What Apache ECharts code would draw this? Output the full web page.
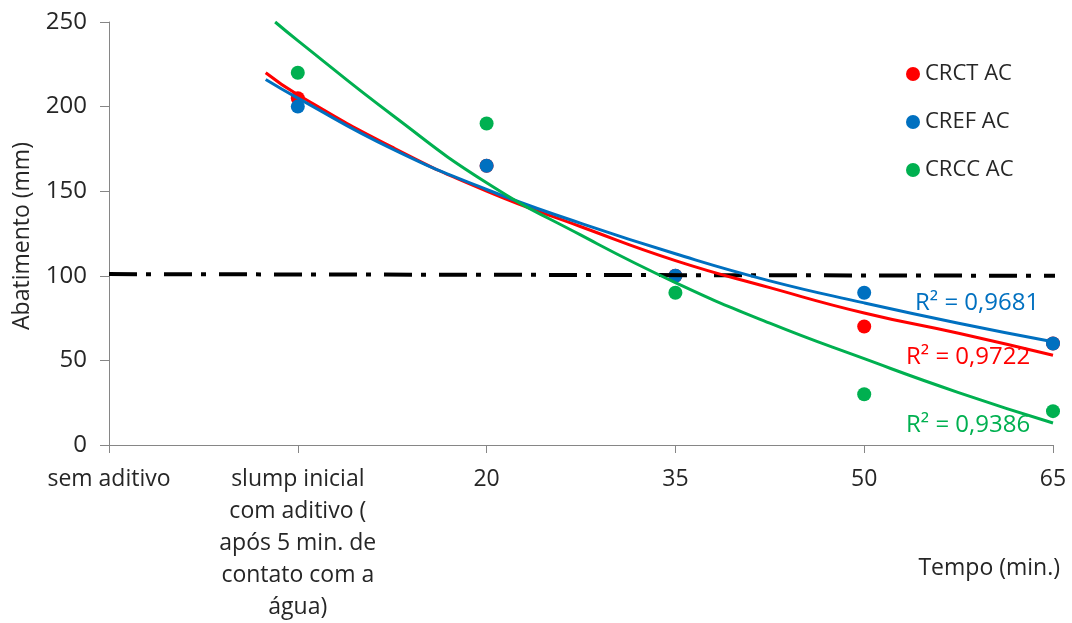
<!DOCTYPE html>
<html>
<head>
<meta charset="utf-8">
<script src="https://cdn.jsdelivr.net/npm/echarts@6/dist/echarts.min.js"></script>
<style>
  html, body { margin: 0; padding: 0; background: #fff; }
  #chart { width: 1072px; height: 623px; }
</style>
</head>
<body>
<div id="chart"></div>
<script>
// categorias do eixo x
var categories = [
  'sem aditivo',
  'slump inicial\ncom aditivo (\napós 5 min. de\ncontato com a\nágua)',
  '20', '35', '50', '65'
];

// pontos medidos (indice da categoria, abatimento em mm)
var crct = [[1, 205], [2, 165], [3, 100], [4, 70], [5, 60]];
var cref = [[1, 200], [2, 165], [3, 100], [4, 90], [5, 60]];
var crcc = [[1, 220], [2, 190], [3, 90], [4, 30], [5, 20]];

// linhas de tendencia
var trendCrct = [[0.83, 220], [1, 207], [1.5, 176], [2, 150], [2.5, 129], [3, 109], [3.5, 93], [4, 78], [4.5, 66], [5, 53]];
var trendCref = [[0.83, 216], [1, 205], [1.5, 175], [2, 151], [2.5, 131], [3, 113], [3.5, 97], [4, 84], [4.5, 72], [5, 61]];
var trendCrcc = [[0.88, 250], [1, 239], [1.5, 195], [2, 155], [2.5, 124], [3, 96], [3.5, 72], [4, 51], [4.5, 31], [5, 13]];

// limite de referencia (traco-ponto)
var limite = [[0, 101], [5.09, 100]];

var r2Labels = ['R² = 0,9722', 'R² = 0,9681', 'R² = 0,9386'];

var yTicks = { min: 0, max: 250, interval: 50 };

var red = '#ff0000', blue = '#0070c0', green = '#00b050';
var font = '"Open Sans", sans-serif';
var textColor = '#262626';

var chart = echarts.init(document.getElementById('chart'));

chart.setOption({
  backgroundColor: '#ffffff',
  animation: false,
  grid: { left: 109, right: 19, top: 22, bottom: 178 },
  legend: {
    data: ['CRCT AC', 'CREF AC', 'CRCC AC'],
    orient: 'vertical',
    left: 901,
    top: 58,
    icon: 'circle',
    itemWidth: 14,
    itemHeight: 14,
    itemGap: 26,
    textStyle: { fontFamily: font, fontSize: 22, color: textColor, lineHeight: 22 }
  },
  xAxis: {
    type: 'value',
    min: 0,
    max: 5,
    interval: 1,
    splitLine: { show: false },
    axisLine: { lineStyle: { color: '#868686', width: 1 } },
    axisTick: { show: true, length: 8, lineStyle: { color: '#868686' } },
    axisLabel: {
      margin: 18,
      fontFamily: font,
      fontSize: 23,
      color: textColor,
      lineHeight: 32,
      align: 'center',
      formatter: function (v) { return categories[v]; }
    }
  },
  yAxis: {
    type: 'value',
    min: yTicks.min,
    max: yTicks.max,
    interval: yTicks.interval,
    splitLine: { show: false },
    axisLine: { show: true, lineStyle: { color: '#868686', width: 1 } },
    axisTick: { show: true, length: 9, lineStyle: { color: '#868686' } },
    axisLabel: { margin: 22, fontFamily: font, fontSize: 24, color: textColor }
  },
  graphic: [
    {
      type: 'text', x: 22, y: 236, rotation: Math.PI / 2,
      style: { text: 'Abatimento (mm)', fontFamily: font, fontSize: 23, fill: textColor, align: 'center', verticalAlign: 'middle' }
    },
    {
      type: 'text', x: 1060, y: 568,
      style: { text: 'Tempo (min.)', fontFamily: font, fontSize: 23, fill: textColor, align: 'right', verticalAlign: 'middle' }
    },
    {
      type: 'text', x: 906, y: 357,
      style: { text: r2Labels[0], fontFamily: font, fontSize: 24, fill: red, verticalAlign: 'middle' }
    },
    {
      type: 'text', x: 915, y: 303,
      style: { text: r2Labels[1], fontFamily: font, fontSize: 24, fill: blue, verticalAlign: 'middle' }
    },
    {
      type: 'text', x: 906, y: 425,
      style: { text: r2Labels[2], fontFamily: font, fontSize: 24, fill: green, verticalAlign: 'middle' }
    }
  ],
  series: [
    {
      name: 'limite', type: 'line', data: limite, clip: false, symbol: 'none', silent: true,
      lineStyle: { color: '#000', width: 4, type: [28, 9, 5, 13] }
    },
    { name: 'CRCT AC', type: 'scatter', data: crct, symbolSize: 14, itemStyle: { color: red, opacity: 1 } },
    { name: 'CREF AC', type: 'scatter', data: cref, symbolSize: 14, itemStyle: { color: blue, opacity: 1 } },
    { name: 'CRCC AC', type: 'scatter', data: crcc, symbolSize: 14, itemStyle: { color: green, opacity: 1 } },
    { name: 'tend CRCT', type: 'line', data: trendCrct, smooth: 0.5, symbol: 'none', lineStyle: { color: red, width: 3 } },
    { name: 'tend CREF', type: 'line', data: trendCref, smooth: 0.5, symbol: 'none', lineStyle: { color: blue, width: 3 } },
    { name: 'tend CRCC', type: 'line', data: trendCrcc, smooth: 0.5, symbol: 'none', lineStyle: { color: green, width: 3 } }
  ]
});
</script>
</body>
</html>
